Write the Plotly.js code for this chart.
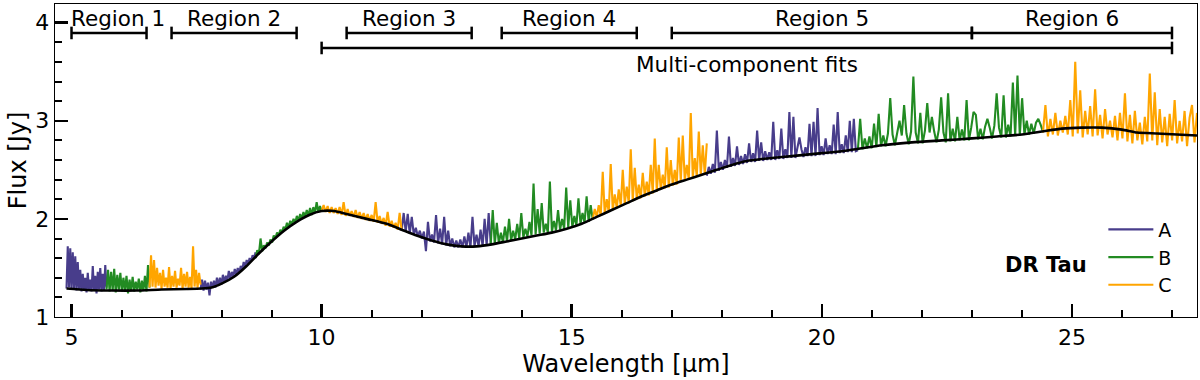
<!DOCTYPE html>
<html>
<head>
<meta charset="utf-8">
<script src="https://cdn.plot.ly/plotly-3.0.1.min.js"></script>
<style>
  html, body { margin: 0; padding: 0; background: #fff; }
  #chart { width: 1200px; height: 380px; }
</style>
</head>
<body>
<div id="chart"></div>
<script>
// MIRI sub-band edges (micron) and which colour group (A/B/C) they belong to
const segStart = [4.90, 5.70, 6.56, 7.58, 8.68, 10.00, 11.60, 13.38, 15.42, 17.70, 20.72, 24.42];
const segEnd   = [5.70, 6.56, 7.58, 8.68, 10.00, 11.60, 13.38, 15.42, 17.70, 20.72, 24.42, 27.50];
const segBand  = ["A", "B", "C", "A", "B", "C", "A", "B", "C", "A", "B", "C"];

const flux1A = [1.29,1.72,1.30,1.70,1.28,1.66,1.29,1.62,1.27,1.56,1.28,1.48,1.26,1.44,1.28,1.40,1.25,1.45,1.28,1.38,1.26,1.52,1.27,1.42,1.24,1.46,1.28,1.50,1.26,1.44,1.27,1.53,1.30];
const flux1B = [1.28,1.48,1.26,1.46,1.27,1.49,1.25,1.43,1.28,1.45,1.26,1.40,1.27,1.42,1.24,1.38,1.27,1.41,1.26,1.36,1.28,1.39,1.25,1.37,1.27,1.42,1.26,1.53,1.30];
const flux1C = [1.30,1.63,1.31,1.58,1.30,1.50,1.32,1.45,1.29,1.48,1.31,1.40,1.30,1.51,1.29,1.42,1.31,1.47,1.30,1.39,1.32,1.50,1.29,1.44,1.31,1.46,1.30,1.41,1.29,1.72,1.31,1.48,1.30,1.45,1.33];
const flux2A = [1.28,1.38,1.27,1.37,1.28,1.35,1.22,1.36,1.30,1.37,1.30,1.40,1.32,1.40,1.33,1.43,1.35,1.42,1.37,1.47,1.39,1.46,1.41,1.49,1.43,1.50,1.45,1.52,1.48,1.56,1.51,1.58,1.54,1.60,1.57,1.63,1.60,1.66];
const flux2B = [1.60,1.68,1.64,1.80,1.67,1.73,1.70,1.76,1.73,1.79,1.76,1.83,1.80,1.86,1.83,1.89,1.86,1.92,1.89,1.96,1.91,1.98,1.94,2.00,1.96,2.03,1.98,2.05,2.00,2.07,2.02,2.09,2.03,2.11,2.04,2.12,2.06,2.17,2.07,2.13,2.08];
const flux2C = [2.08,2.14,2.07,2.13,2.06,2.12,2.06,2.11,2.05,2.12,2.04,2.17,2.03,2.10,2.03,2.08,2.02,2.09,2.01,2.07,2.00,2.06,1.99,2.05,1.98,2.04,1.97,2.17,1.96,2.03,1.95,2.01,1.93,2.07,1.92,1.98,1.91,1.96,1.89,2.06,1.88];
const flux3A = [1.88,2.06,1.87,2.05,1.85,2.02,1.84,1.91,1.82,1.88,1.80,1.87,1.67,1.97,1.77,1.84,1.76,2.04,1.75,1.90,1.74,2.02,1.73,1.88,1.72,1.80,1.71,1.78,1.71,1.79,1.71,1.82,1.71,1.86,1.71,2.02,1.72,1.84,1.72,1.89,1.72,2.00,1.73,2.06,1.75];
const flux3B = [1.73,2.09,1.74,1.96,1.75,1.86,1.76,1.92,1.77,2.00,1.78,1.88,1.79,1.95,1.80,2.06,1.81,1.90,1.82,1.97,1.83,2.36,1.84,2.10,1.85,2.16,1.86,1.95,1.86,2.38,1.87,1.98,1.88,2.09,1.89,2.00,1.90,2.32,1.91,2.19,1.92,2.03,1.93,2.21,1.95,2.06,1.96,2.23,1.97,2.14,1.99];
const flux3C = [2.00,2.10,2.02,2.14,2.03,2.48,2.05,2.20,2.07,2.56,2.09,2.25,2.11,2.30,2.13,2.50,2.15,2.33,2.16,2.71,2.18,2.52,2.20,2.35,2.21,2.47,2.23,2.38,2.24,2.55,2.26,2.82,2.28,2.55,2.30,2.45,2.31,2.73,2.32,2.60,2.34,2.50,2.35,2.83,2.38,2.85,2.39,2.55,2.40,3.08,2.42,2.62,2.43,2.89,2.44,2.75,2.45,2.77];
const flux4A = [2.44,2.53,2.46,2.56,2.47,2.90,2.49,2.58,2.50,2.60,2.52,2.84,2.53,2.62,2.54,2.74,2.55,2.64,2.56,2.66,2.57,2.77,2.58,2.67,2.58,2.90,2.59,2.78,2.59,2.69,2.60,2.68,2.60,2.99,2.60,2.70,2.61,2.92,2.61,2.71,2.62,3.09,2.62,3.04,2.62,2.72,2.83,2.71,2.63,2.73,2.64,2.97,2.64,2.99,2.64,3.13,2.65,2.74,2.65,2.82,2.66,2.75,2.66,2.96,2.66,3.09,2.67,2.76,2.67,2.85,2.68,3.00,2.68,3.02,2.69,2.70];
const flux4B = [2.70,3.02,2.71,2.82,2.72,2.84,2.72,2.97,2.73,3.07,2.74,2.85,2.74,2.87,3.23,2.86,2.75,2.88,3.00,2.85,3.16,2.87,2.76,2.89,3.45,2.88,2.77,3.08,2.77,2.90,3.18,2.88,3.04,2.89,2.78,2.91,3.24,2.88,2.78,3.28,2.79,2.92,2.79,3.04,2.80,2.91,2.80,3.21,2.80,2.93,3.09,3.06,2.81,2.92,2.81,2.94,3.02,2.93,2.82,2.95,3.28,2.93,2.83,3.26,2.83,2.96,2.84,3.39,2.85,3.46,2.85,3.23,2.86,3.00,2.86,2.97,2.87,2.98,3.02,2.96,2.89];
const flux4C = [2.88,3.16,2.84,3.02,2.86,3.08,2.85,3.00,2.88,3.05,2.86,3.21,2.84,3.60,2.87,3.31,2.83,3.10,2.86,3.15,2.84,3.32,2.85,3.06,2.82,3.12,2.86,3.00,2.83,3.05,2.80,3.08,2.82,3.28,2.79,3.06,2.77,3.10,2.80,2.98,2.76,3.04,2.79,3.48,2.80,3.29,2.75,3.12,2.78,3.04,2.74,3.07,2.80,3.21,2.77,3.00,2.79,3.10,2.74,3.03,3.16,2.78,3.08];
const segFlux = [flux1A, flux1B, flux1C, flux2A, flux2B, flux2C, flux3A, flux3B, flux3C, flux4A, flux4B, flux4C];

// continuum model (black curve)
const contWave = [4.9,5.3,5.8,6.3,6.8,7.3,7.6,7.8,8.0,8.25,8.5,8.75,9.0,9.25,9.5,9.75,10.0,10.25,10.5,10.9,11.3,11.6,11.9,12.2,12.5,12.8,13.1,13.4,13.7,14.0,14.3,14.6,14.9,15.2,15.5,15.8,16.1,16.4,16.7,17.0,17.3,17.6,17.9,18.2,18.5,18.8,19.2,19.6,20.0,20.4,20.8,21.2,21.8,22.4,23.0,23.5,24.0,24.4,24.8,25.2,25.6,26.0,26.3,26.7,27.1,27.5];
const contFlux = [1.29,1.275,1.27,1.27,1.28,1.285,1.29,1.30,1.34,1.41,1.52,1.65,1.77,1.88,1.97,2.04,2.08,2.08,2.05,2.00,1.95,1.89,1.83,1.78,1.74,1.72,1.72,1.74,1.77,1.80,1.83,1.86,1.90,1.95,2.02,2.09,2.16,2.23,2.29,2.35,2.40,2.45,2.50,2.55,2.59,2.61,2.63,2.65,2.67,2.69,2.72,2.75,2.78,2.80,2.82,2.84,2.86,2.89,2.92,2.93,2.93,2.91,2.88,2.87,2.86,2.85];

// fitting regions shown on top
const regionNames = ["Region 1", "Region 2", "Region 3", "Region 4", "Region 5", "Region 6"];
const regionStart = [5.0, 7.0, 10.5, 13.6, 17.0, 23.0];
const regionEnd   = [6.5, 9.5, 13.0, 16.3, 23.0, 27.0];
const regionLabelX = [5.93, 8.25, 11.75, 14.95, 20.0, 25.0];
const multiStart = 10.0, multiEnd = 27.0;
const regionLevel = 3.895, multiLevel = 3.742;

const bandColors = { A: "#483D8B", B: "#228B22", C: "#FFA500" };
const FONT = "DejaVu Sans, Liberation Sans, sans-serif";

let traces = [];
["A", "B", "C"].forEach(function (band) {
    let xs = [], ys = [];
    for (let s = 0; s < segBand.length; s++) {
        if (segBand[s] !== band) continue;
        let f = segFlux[s];
        let step = (segEnd[s] - segStart[s]) / (f.length - 1);
        for (let i = 0; i < f.length; i++) {
            xs.push(segStart[s] + i * step);
            ys.push(f[i]);
        }
        xs.push(null); ys.push(null);
    }
    traces.push({
        x: xs, y: ys, type: "scatter", mode: "lines", name: band,
        line: { color: bandColors[band], width: 2.1 },
        connectgaps: false, hoverinfo: "skip"
    });
});

traces.push({
    x: contWave, y: contFlux, type: "scatter", mode: "lines",
    line: { color: "black", width: 2.6, shape: "spline", smoothing: 0.6 },
    showlegend: false, hoverinfo: "skip"
});

// brackets
function bracket(x0, x1, lev) {
    return {
        x: [x0, x1], y: [lev, lev], type: "scatter", mode: "lines+markers",
        line: { color: "black", width: 2.5 },
        marker: { symbol: "line-ns", size: 9, line: { color: "black", width: 2.5 } },
        showlegend: false, hoverinfo: "skip", cliponaxis: false
    };
}
for (let r = 0; r < regionNames.length; r++) {
    traces.push(bracket(regionStart[r], regionEnd[r], regionLevel));
}
traces.push(bracket(multiStart, multiEnd, multiLevel));

let annotations = regionNames.map(function (name, r) {
    return {
        x: regionLabelX[r], y: regionLevel, text: name, showarrow: false,
        xanchor: "center", yanchor: "bottom", yshift: 0,
        font: { family: FONT, size: 21.5, color: "black" }
    };
});
annotations.push({
    x: (multiStart + multiEnd) / 2, y: multiLevel, text: "Multi-component fits",
    showarrow: false, xanchor: "center", yanchor: "top", yshift: -2,
    font: { family: FONT, size: 21.5, color: "black" }
});
annotations.push({
    x: 24.49, y: 1.53, text: "<b>DR Tau</b>", showarrow: false,
    xanchor: "center", yanchor: "middle",
    font: { family: FONT, size: 21, color: "black" }
});

let layout = {
    width: 1200, height: 380,
    margin: { l: 55, r: 3, t: 4, b: 63 },
    paper_bgcolor: "white", plot_bgcolor: "white",
    font: { family: FONT, color: "black" },
    showlegend: true,
    legend: {
        x: 0.918, xanchor: "left", y: 0.19, yanchor: "middle",
        bgcolor: "rgba(0,0,0,0)", font: { family: FONT, size: 19, color: "black" },
        itemwidth: 45
    },
    xaxis: {
        range: [4.67, 27.5], showgrid: false, zeroline: false,
        showline: true, mirror: true, linecolor: "black", linewidth: 1.3,
        ticks: "inside", ticklen: 13, tickwidth: 2.5, tickcolor: "black",
        tick0: 0, dtick: 5,
        minor: { ticks: "inside", dtick: 1, ticklen: 7, tickwidth: 2, tickcolor: "black" },
        tickfont: { family: FONT, size: 22, color: "black" },
        title: { text: "Wavelength [μm]", font: { family: FONT, size: 24, color: "black" }, standoff: 6 }
    },
    yaxis: {
        range: [1, 4.19], showgrid: false, zeroline: false,
        showline: true, mirror: true, linecolor: "black", linewidth: 1.3,
        ticks: "inside", ticklen: 13, tickwidth: 2.5, tickcolor: "black",
        tick0: 0, dtick: 1,
        minor: { ticks: "inside", dtick: 0.2, ticklen: 7, tickwidth: 2, tickcolor: "black" },
        tickfont: { family: FONT, size: 22, color: "black" },
        title: { text: "Flux [Jy]", font: { family: FONT, size: 24, color: "black" }, standoff: 2 }
    },
    annotations: annotations
};

Plotly.newPlot("chart", traces, layout, { staticPlot: true, displayModeBar: false });
</script>
</body>
</html>
